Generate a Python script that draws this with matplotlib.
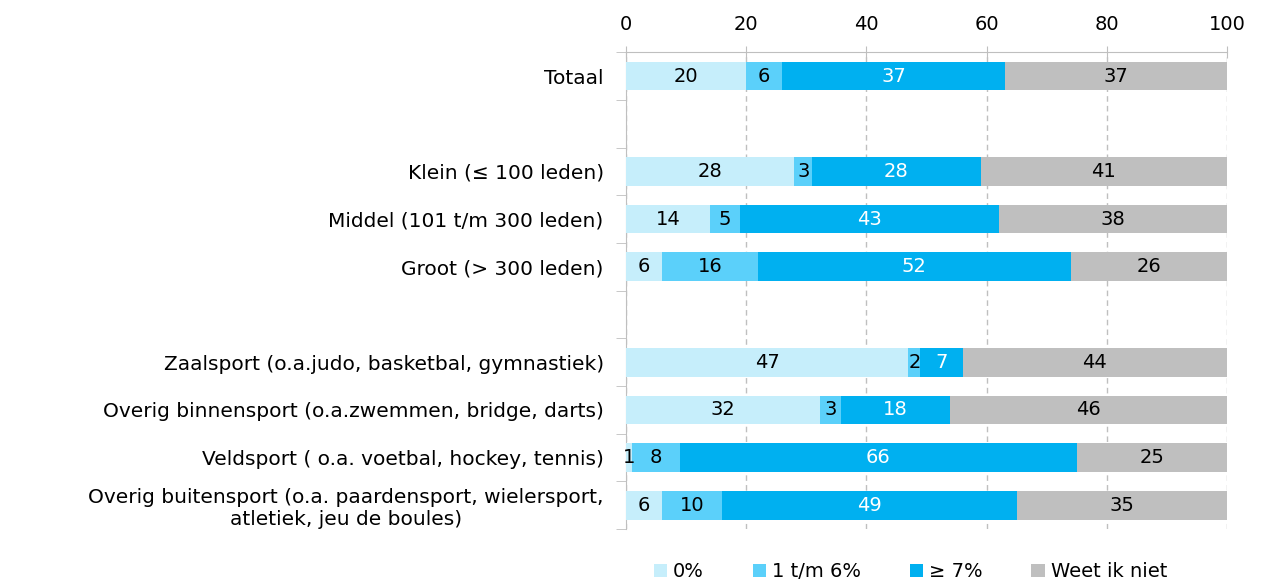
import matplotlib
matplotlib.use("Agg")
import matplotlib.pyplot as plt
import numpy as np

CATEGORIES = [
    "Totaal",
    "",
    "Klein (≤ 100 leden)",
    "Middel (101 t/m 300 leden)",
    "Groot (> 300 leden)",
    "",
    "Zaalsport (o.a.judo, basketbal, gymnastiek)",
    "Overig binnensport (o.a.zwemmen, bridge, darts)",
    "Veldsport ( o.a. voetbal, hockey, tennis)",
    "Overig buitensport (o.a. paardensport, wielersport,\natletiek, jeu de boules)",
]

SERIES = ["0%", "1 t/m 6%", "≥ 7%", "Weet ik niet"]
VAL_0 = [20, None, 28, 14, 6, None, 47, 32.3, 1, 6]
VAL_1_6 = [6, None, 3, 5, 16, None, 2, 3.4, 8, 10]
VAL_7 = [37, None, 28, 43, 52, None, 7, 18.3, 66, 49]
VAL_NIET = [37, None, 41, 38, 26, None, 44, 46, 25, 35]

COLORS = ["#C6EEFB", "#5BD0FA", "#00B0F0", "#BFBFBF"]
TEXT_COLORS = ["black", "black", "white", "black"]

plt.rcParams["font.family"] = ["DejaVu Sans"]

fig = plt.figure(figsize=(12.61, 5.86), dpi=100)
ax = fig.add_axes([0.4964, 0.097, 0.4766, 0.814])

y = np.arange(len(CATEGORIES))
left = np.zeros(len(CATEGORIES))
for name, vals, col, tcol in zip(SERIES, [VAL_0, VAL_1_6, VAL_7, VAL_NIET], COLORS, TEXT_COLORS):
    v = np.array([0 if x is None else x for x in vals], dtype=float)
    ax.barh(y, v, left=left, height=0.6, color=col, label=name, zorder=3)
    for i, val in enumerate(vals):
        if val is None:
            continue
        ax.text(left[i] + v[i] / 2, y[i], f"{val:.0f}", ha="center", va="center",
                color=tcol, fontsize=14, zorder=4)
    left += v

ax.set_xlim(0, 100)
ax.set_ylim(len(CATEGORIES) - 0.5, -0.5)
ax.xaxis.tick_top()
ax.set_xticks([0, 20, 40, 60, 80, 100])
ax.tick_params(axis="x", direction="inout", length=8, color="#BFBFBF", labelsize=14, pad=9)
ax.set_yticks(y)
ax.set_yticklabels(CATEGORIES, fontsize=14.5, multialignment="center")
ax.set_yticks(np.arange(-0.5, len(CATEGORIES)), minor=True)
ax.tick_params(axis="y", which="major", length=0, pad=16)
ax.tick_params(axis="y", which="minor", length=7, color="#BFBFBF", direction="out")
ax.grid(axis="x", linestyle=(0, (4, 3)), color="#BFBFBF", linewidth=1, zorder=0)
for s in ["right", "bottom"]:
    ax.spines[s].set_visible(False)
ax.spines["top"].set_color("#BFBFBF")
ax.spines["left"].set_color("#BFBFBF")

fig.legend(loc="center", bbox_to_anchor=(0.722, 0.024), ncol=4, frameon=False,
           fontsize=14, handlelength=0.7, handleheight=0.7, handletextpad=0.3,
           columnspacing=2.5)

fig.savefig("out.png", dpi=100)
